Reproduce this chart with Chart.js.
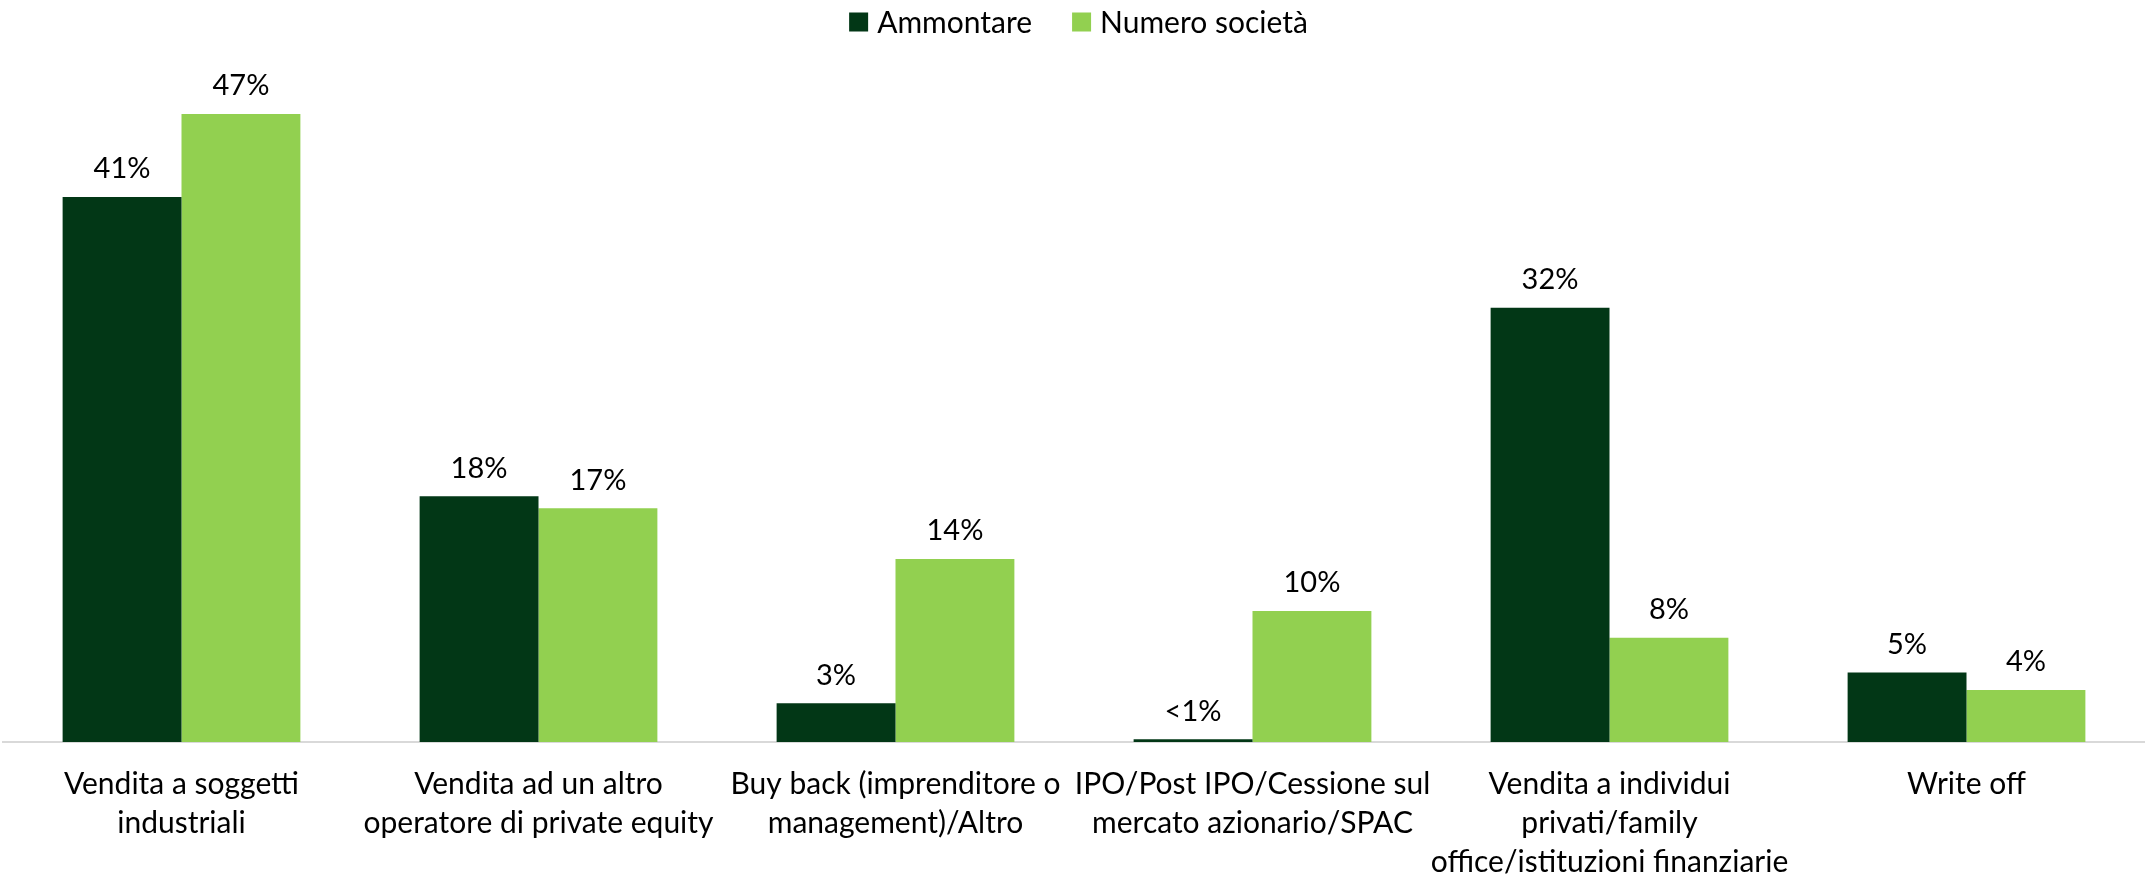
<!DOCTYPE html>
<html>
<head>
<meta charset="utf-8">
<title>Exit per tipologia</title>
<script src="https://cdn.jsdelivr.net/npm/chart.js@4.4.1/dist/chart.umd.min.js"></script>
<style>
    html, body { margin: 0; padding: 0; background: #ffffff; }
    #wrap { width: 2145px; height: 880px; position: relative; }
</style>
</head>
<body>
<div id="wrap"><canvas id="exitChart"></canvas></div>
<script>
// Categories (one array per line of the axis label)
const categories = [
    ['Vendita a soggetti', 'industriali'],
    ['Vendita ad un altro', 'operatore di private equity'],
    ['Buy back (imprenditore o', 'management)/Altro'],
    ['IPO/Post IPO/Cessione sul', 'mercato azionario/SPAC'],
    ['Vendita a individui', 'privati/family', 'office/istituzioni finanziarie'],
    ['Write off']
];

// Series values (%)
const ammontare = [40.8, 18.4, 2.9, 0.2, 32.5, 5.2];
const numeroSocieta = [47, 17.5, 13.7, 9.8, 7.8, 3.9];

// Labels printed above the bars
const ammontareLabels = ['41%', '18%', '3%', '<1%', '32%', '5%'];
const numeroLabels = ['47%', '17%', '14%', '10%', '8%', '4%'];

const darkGreen = '#023716';
const lightGreen = '#92d050';
const fontFamily = 'Lato, "Open Sans", "Noto Sans", sans-serif';

// Draw the value labels above each bar
const barLabels = {
    id: 'barLabels',
    afterDatasetsDraw(chart) {
        const ctx = chart.ctx;
        ctx.save();
        ctx.font = '29px ' + fontFamily;
        ctx.fillStyle = '#000000';
        ctx.textAlign = 'center';
        ctx.textBaseline = 'middle';
        chart.data.datasets.forEach((ds, i) => {
            const meta = chart.getDatasetMeta(i);
            meta.data.forEach((bar, j) => {
                ctx.fillText(ds.valueLabels[j], bar.x, bar.y - 28);
            });
        });
        ctx.restore();
    }
};

// Legend drawn at the top centre, with wider spacing than the built-in one
const topLegend = {
    id: 'topLegend',
    afterDraw(chart) {
        const ctx = chart.ctx;
        const box = 19, boxGap = 9, itemGap = 40, y = 22;
        ctx.save();
        ctx.font = '30px ' + fontFamily;
        ctx.textBaseline = 'middle';
        ctx.textAlign = 'left';
        const items = chart.data.datasets.map(ds => ({
            text: ds.label,
            color: ds.backgroundColor,
            width: box + boxGap + ctx.measureText(ds.label).width
        }));
        const total = items.reduce((s, it) => s + it.width, 0) + itemGap * (items.length - 1);
        let x = (chart.width - total) / 2 + 6;
        items.forEach(it => {
            ctx.fillStyle = it.color;
            ctx.fillRect(x, y - box / 2, box, box);
            ctx.fillStyle = '#000000';
            ctx.fillText(it.text, x + box + boxGap, y + 1);
            x += it.width + itemGap;
        });
        ctx.restore();
    }
};

const ctx = document.getElementById('exitChart').getContext('2d');
const exitChart = new Chart(ctx, {
    type: 'bar',
    data: {
        labels: categories,
        datasets: [
            {
                label: 'Ammontare',
                data: ammontare,
                valueLabels: ammontareLabels,
                backgroundColor: darkGreen,
                categoryPercentage: 0.666,
                barPercentage: 1.0
            },
            {
                label: 'Numero società',
                data: numeroSocieta,
                valueLabels: numeroLabels,
                backgroundColor: lightGreen,
                categoryPercentage: 0.666,
                barPercentage: 1.0
            }
        ]
    },
    options: {
        responsive: true,
        maintainAspectRatio: false,
        animation: false,
        layout: {
            padding: { top: 74, bottom: 0, left: 3, right: 0 }
        },
        plugins: {
            legend: { display: false },
            tooltip: { enabled: false }
        },
        scales: {
            x: {
                grid: { display: false },
                border: { display: true, color: '#d9d9d9', width: 2 },
                ticks: {
                    color: '#000000',
                    autoSkip: false,
                    maxRotation: 0,
                    padding: 15,
                    font: { family: fontFamily, size: 30, lineHeight: 1.3 }
                },
                afterFit(scale) {
                    scale.height = 138;
                }
            },
            y: {
                display: false,
                min: 0,
                max: 50
            }
        }
    },
    plugins: [barLabels, topLegend]
});
</script>
</body>
</html>
